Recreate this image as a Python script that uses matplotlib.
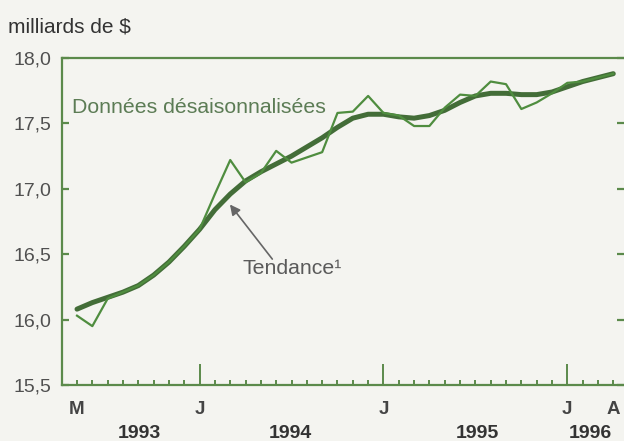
import numpy as np
import matplotlib
matplotlib.use("Agg")
import matplotlib.pyplot as plt
import matplotlib.transforms as mtransforms

plt.rcParams['font.family'] = ['Liberation Sans', 'DejaVu Sans']

# mois: mai 1993 -> avril 1996 (index 0..35)
mois = np.arange(36)
donnees = [16.03, 15.95, 16.16, 16.21, 16.26, 16.34, 16.44, 16.56, 16.69, 16.96,
           17.22, 17.05, 17.12, 17.29, 17.20, 17.24, 17.28, 17.58, 17.59, 17.71,
           17.58, 17.56, 17.48, 17.48, 17.62, 17.72, 17.71, 17.82, 17.80, 17.61,
           17.66, 17.73, 17.81, 17.82, 17.85, 17.88]
tendance = [16.08, 16.13, 16.17, 16.21, 16.26, 16.34, 16.44, 16.56, 16.69, 16.84,
            16.96, 17.06, 17.13, 17.19, 17.25, 17.32, 17.39, 17.47, 17.54, 17.57,
            17.57, 17.55, 17.54, 17.56, 17.60, 17.66, 17.71, 17.73, 17.73, 17.72,
            17.72, 17.74, 17.78, 17.82, 17.85, 17.88]
yticks = [15.5, 16.0, 16.5, 17.0, 17.5, 18.0]
ylabels = ['15,5', '16,0', '16,5', '17,0', '17,5', '18,0']
mois_pos = [0, 8, 20, 32, 35]
mois_lab = ['M', 'J', 'J', 'J', 'A']
annee_pos = [4.1, 13.95, 26.15, 33.5]
annee_lab = ['1993', '1994', '1995', '1996']

vert = '#5b8a4b'
bg = '#f4f4f0'

fig = plt.figure(figsize=(6.24, 4.41), dpi=100, facecolor=bg)
ax = fig.add_axes([62/624, 1-385/441, 1-62/624, (385-58)/441])
ax.set_facecolor(bg)

ax.plot(mois, tendance, color='#436d38', lw=3.6, solid_capstyle='round', zorder=3)
ax.plot(mois, donnees, color='#4f8d3f', lw=1.6, zorder=4)

ax.set_xlim(-0.98, 35.7)
ax.set_ylim(15.5, 18.0)

for s in ['left', 'bottom', 'top']:
    ax.spines[s].set_color(vert)
    ax.spines[s].set_linewidth(1.6)
ax.spines['right'].set_visible(False)

ax.set_yticks(yticks)
ax.set_yticklabels(ylabels)
ax.tick_params(axis='y', direction='in', length=5, width=1.6, color=vert,
               labelsize=14, labelcolor='#505050', pad=8, right=True)

ax.set_xticks([8, 20, 32])
ax.set_xticks(mois, minor=True)
ax.set_xticklabels([])
ax.tick_params(axis='x', which='major', direction='in', length=15, width=1.4, color=vert)
ax.tick_params(axis='x', which='minor', direction='in', length=3.5, width=1.4, color=vert)

tr = mtransforms.blended_transform_factory(ax.transData, fig.transFigure)
for p, l in zip(mois_pos, mois_lab):
    ax.text(p, 1-410/441, l, transform=tr, ha='center', va='center',
            fontsize=13.5, fontweight='bold', color='#444444')
for p, l in zip(annee_pos, annee_lab):
    ax.text(p, 1-434/441, l, transform=tr, ha='center', va='center',
            fontsize=14, fontweight='bold', color='#333333')

fig.text(8/624, 1-27/441, 'milliards de $', ha='left', va='center',
         fontsize=15, color='#333333')

ax.text(-0.33, 17.62, 'Données désaisonnalisées', ha='left', va='center',
        fontsize=15.3, color='#5c7c55')
ax.annotate('Tendance¹', xy=(9.98, 16.88), xytext=(10.8, 16.39),
            ha='left', va='center', fontsize=15.3, color='#5a5a5a',
            arrowprops=dict(arrowstyle='-|>', color='#666666', lw=1.2,
                            shrinkA=0, shrinkB=0,
                            patchA=None, relpos=(0.3, 1.0)))

fig.savefig('out.png', dpi=100, facecolor=bg)
